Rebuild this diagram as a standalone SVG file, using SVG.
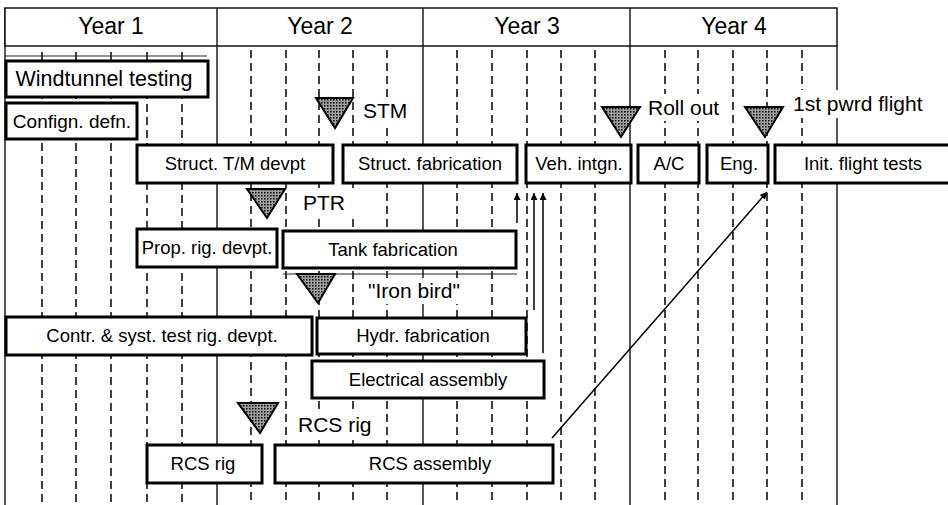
<svg xmlns="http://www.w3.org/2000/svg" width="948" height="505" viewBox="0 0 948 505">
<style>
.bg{fill:#fff}
.grid{stroke:#111;stroke-width:1.6;stroke-dasharray:8 5;fill:none}
.solid{stroke:#111;stroke-width:1.4;fill:none}
.thin{stroke:#222;stroke-width:1;fill:none}
.hdr{fill:#fff;stroke:#111;stroke-width:1.5}
.box{fill:#fff;stroke:#000;stroke-width:3}
.lbg{fill:#fff;stroke:none}
.tri{fill:url(#hatch);stroke:#000;stroke-width:2;stroke-linejoin:miter}
.t{font-family:"Liberation Sans",Arial,Helvetica,sans-serif;fill:#000}
.yr{font-size:23px;text-anchor:middle}
.bl{font-size:18.5px;text-anchor:middle}
.ml{font-size:21px}
.conn{stroke:#000;stroke-width:1.5;fill:none}
</style>
<defs>
<pattern id="hatch" width="3" height="3" patternUnits="userSpaceOnUse">
<rect width="3" height="3" fill="#a0a0a0"/>
<rect x="0" y="0" width="1.5" height="1.5" fill="#000"/>
</pattern>
<marker id="arr" viewBox="0 0 10 10" refX="10" refY="5" markerWidth="12" markerHeight="7" markerUnits="userSpaceOnUse" orient="auto">
<path d="M0,0 L10,5 L0,10 Z" fill="#000"/>
</marker>
</defs>
<rect class="bg" width="948" height="505"/>

<g id="grid">
<g class="grid">
<path d="M42 52V505M76 52V505M111 52V505M147 52V505M182 52V505"/>
<path d="M251 50V505M286 50V505M319 50V505M353 50V505M387 50V505"/>
<path d="M457 50V505M492 50V505M527 50V505M561 50V505M595 50V505"/>
<path d="M665 50V505M698 50V505M733 50V505M767 50V505M802 50V505"/>
</g>
<path class="solid" d="M5 8V505M217 46V505M423 46V505M630 46V505M837 46V505"/>
<path class="thin" d="M5 56H207M283 274H517"/>
</g>

<g id="header">
<rect class="hdr" x="5" y="8" width="832" height="38"/>
<path class="solid" d="M217 8V46M423 8V46M630 8V46"/>
<text class="t yr" x="111" y="34">Year 1</text>
<text class="t yr" x="320" y="34">Year 2</text>
<text class="t yr" x="527" y="34">Year 3</text>
<text class="t yr" x="734" y="34">Year 4</text>
</g>

<g id="connectors">
<line class="conn" x1="517" y1="223" x2="517" y2="193" marker-end="url(#arr)"/>
<line class="conn" x1="534" y1="310" x2="534" y2="193" marker-end="url(#arr)"/>
<line class="conn" x1="543" y1="353" x2="543" y2="193" marker-end="url(#arr)"/>
<line class="conn" x1="552" y1="438" x2="767" y2="192" marker-end="url(#arr)"/>
</g>

<g id="windtunnel"><rect class="box" x="6" y="61" width="202" height="36"/><text class="t" x="104" y="86" font-size="21.5" text-anchor="middle">Windtunnel testing</text></g>
<g id="confign"><rect class="box" x="6" y="103" width="131" height="36"/><text class="t" x="72" y="128" font-size="19" text-anchor="middle">Confign. defn.</text></g>

<g id="stm"><rect class="lbg" x="359" y="97" width="52" height="26"/><polygon class="tri" points="316,98 353,98 335,128"/><text class="t ml" x="363" y="118">STM</text></g>
<g id="rollout"><rect class="lbg" x="645" y="94" width="82" height="27"/><polygon class="tri" points="602,107 640,107 621,137"/><text class="t ml" x="648" y="115">Roll out</text></g>
<g id="firstflight"><rect class="lbg" x="789" y="90" width="145" height="28"/><polygon class="tri" points="745,107 783,107 765,137"/><text class="t ml" x="793" y="111">1st pwrd flight</text></g>

<g id="struct-tm"><rect class="box" x="137" y="145" width="196" height="38"/><text class="t bl" x="235" y="170">Struct. T/M devpt</text></g>
<g id="struct-fab"><rect class="box" x="343" y="145" width="174" height="38"/><text class="t bl" x="430" y="170">Struct. fabrication</text></g>
<g id="veh-intgn"><rect class="box" x="526" y="145" width="105" height="38"/><text class="t bl" x="579" y="170">Veh. intgn.</text></g>
<g id="ac"><rect class="box" x="638" y="145" width="61" height="38"/><text class="t bl" x="669" y="170">A/C</text></g>
<g id="eng"><rect class="box" x="707" y="145" width="61" height="38"/><text class="t bl" x="739" y="170">Eng.</text></g>
<g id="init-flight"><rect class="box" x="775" y="145" width="190" height="38"/><text class="t bl" x="863" y="170">Init. flight tests</text></g>

<g id="ptr"><rect class="lbg" x="299" y="190" width="55" height="25"/><polygon class="tri" points="247,189 285,189 267,218"/><text class="t ml" x="303" y="210">PTR</text></g>

<g id="prop-rig"><rect class="box" x="137" y="229" width="140" height="38"/><text class="t bl" x="207" y="254">Prop. rig. devpt.</text></g>
<g id="tank-fab"><rect class="box" x="283" y="231" width="233" height="37"/><text class="t bl" x="393" y="256">Tank fabrication</text></g>

<g id="ironbird"><rect class="lbg" x="363" y="278" width="108" height="26"/><polygon class="tri" points="297,274 335,274 318,303"/><text class="t ml" x="368" y="298">"Iron bird"</text></g>

<g id="contr-rig"><rect class="box" x="6" y="317" width="306" height="38"/><text class="t bl" x="162" y="342">Contr. &amp; syst. test rig. devpt.</text></g>
<g id="hydr-fab"><rect class="box" x="317" y="318" width="209" height="36"/><text class="t bl" x="423" y="342">Hydr. fabrication</text></g>
<g id="elec-asm"><rect class="box" x="312" y="361" width="232" height="37"/><text class="t bl" x="428" y="386">Electrical assembly</text></g>

<g id="rcs-rig-ms"><rect class="lbg" x="294" y="411" width="86" height="27"/><polygon class="tri" points="238,403 278,403 260,433"/><text class="t ml" x="298" y="432">RCS rig</text></g>

<g id="rcs-rig"><rect class="box" x="147" y="445" width="115" height="38"/><text class="t bl" x="203" y="470">RCS rig</text></g>
<g id="rcs-asm"><rect class="box" x="275" y="445" width="278" height="38"/><text class="t bl" x="430" y="470">RCS assembly</text></g>
</svg>
